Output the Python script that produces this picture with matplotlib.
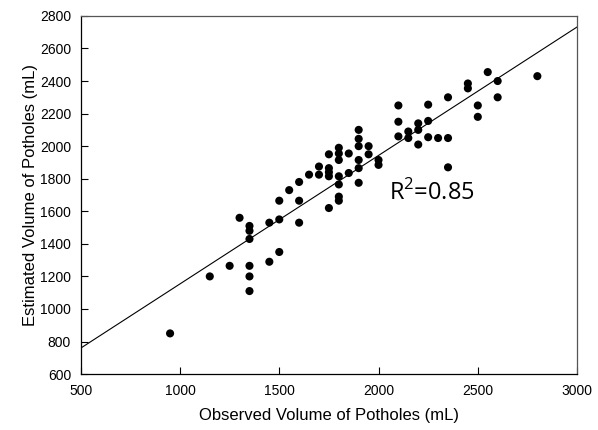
import numpy as np
import matplotlib
matplotlib.use("Agg")
import matplotlib.pyplot as plt

# Observed vs estimated pothole volume (mL)
observed = [950, 1150, 1250, 1300,
            1350, 1350, 1350, 1350, 1350, 1350,
            1450, 1450,
            1500, 1500, 1500,
            1550,
            1600, 1600, 1600,
            1650,
            1700, 1700,
            1750, 1750, 1750, 1750, 1750,
            1800, 1800, 1800, 1800, 1800, 1800, 1800,
            1850, 1850,
            1900, 1900, 1900, 1900, 1900, 1900,
            1950, 1950,
            2000, 2000,
            2100, 2100, 2100,
            2150, 2150,
            2200, 2200, 2200,
            2250, 2250, 2250,
            2300,
            2350, 2350, 2350,
            2450, 2450,
            2500, 2500,
            2550,
            2600, 2600,
            2800]
estimated = [850, 1200, 1265, 1560,
             1510, 1480, 1430, 1265, 1200, 1110,
             1530, 1290,
             1665, 1550, 1350,
             1730,
             1780, 1665, 1530,
             1825,
             1875, 1825,
             1950, 1865, 1840, 1815, 1620,
             1990, 1955, 1915, 1815, 1765, 1690, 1665,
             1955, 1835,
             2100, 2045, 2000, 1915, 1865, 1775,
             2000, 1950,
             1915, 1885,
             2250, 2150, 2060,
             2090, 2050,
             2140, 2100, 2010,
             2255, 2155, 2055,
             2050,
             2300, 2050, 1870,
             2385, 2355,
             2250, 2180,
             2455,
             2400, 2300,
             2430]

# fitted line shown on the chart
fit_intercept = 365.0
fit_slope = 0.789
fit_x = np.array([500, 3000])
r2_text = "R$^2$=0.85"

x_ticks = [500, 1000, 1500, 2000, 2500, 3000]
y_ticks = list(range(600, 2801, 200))

plt.rcParams["mathtext.fontset"] = "custom"
plt.rcParams["mathtext.rm"] = "Open Sans"

fig = plt.figure(figsize=(5.98, 4.30), dpi=100)
ax = fig.add_axes([0.135, 0.130, 0.830, 0.833])

ax.scatter(observed, estimated, s=34, color="black", edgecolors="none", zorder=3)
ax.plot(fit_x, fit_intercept + fit_slope * fit_x, color="black", lw=0.8, zorder=2)

ax.text(2055, 1712, r2_text, fontsize=17, family="Open Sans", va="center", ha="left")

ax.set_xlim(500, 3000)
ax.set_ylim(600, 2800)
ax.set_xticks(x_ticks)
ax.set_yticks(y_ticks)
ax.tick_params(direction="in", length=5, width=0.8, labelsize=10, pad=7)
for lab in ax.get_xticklabels() + ax.get_yticklabels():
    lab.set_family("Liberation Sans")
for sp in ax.spines.values():
    sp.set_linewidth(0.9)
    sp.set_color("black")
ax.spines["top"].set_color("#555555")
ax.spines["right"].set_color("#555555")

ax.set_xlabel("Observed Volume of Potholes (mL)", fontsize=12, family="Liberation Sans", labelpad=7)
ax.set_ylabel("Estimated Volume of Potholes (mL)", fontsize=12, family="Liberation Sans", labelpad=1)

fig.savefig("out.png", dpi=100)
